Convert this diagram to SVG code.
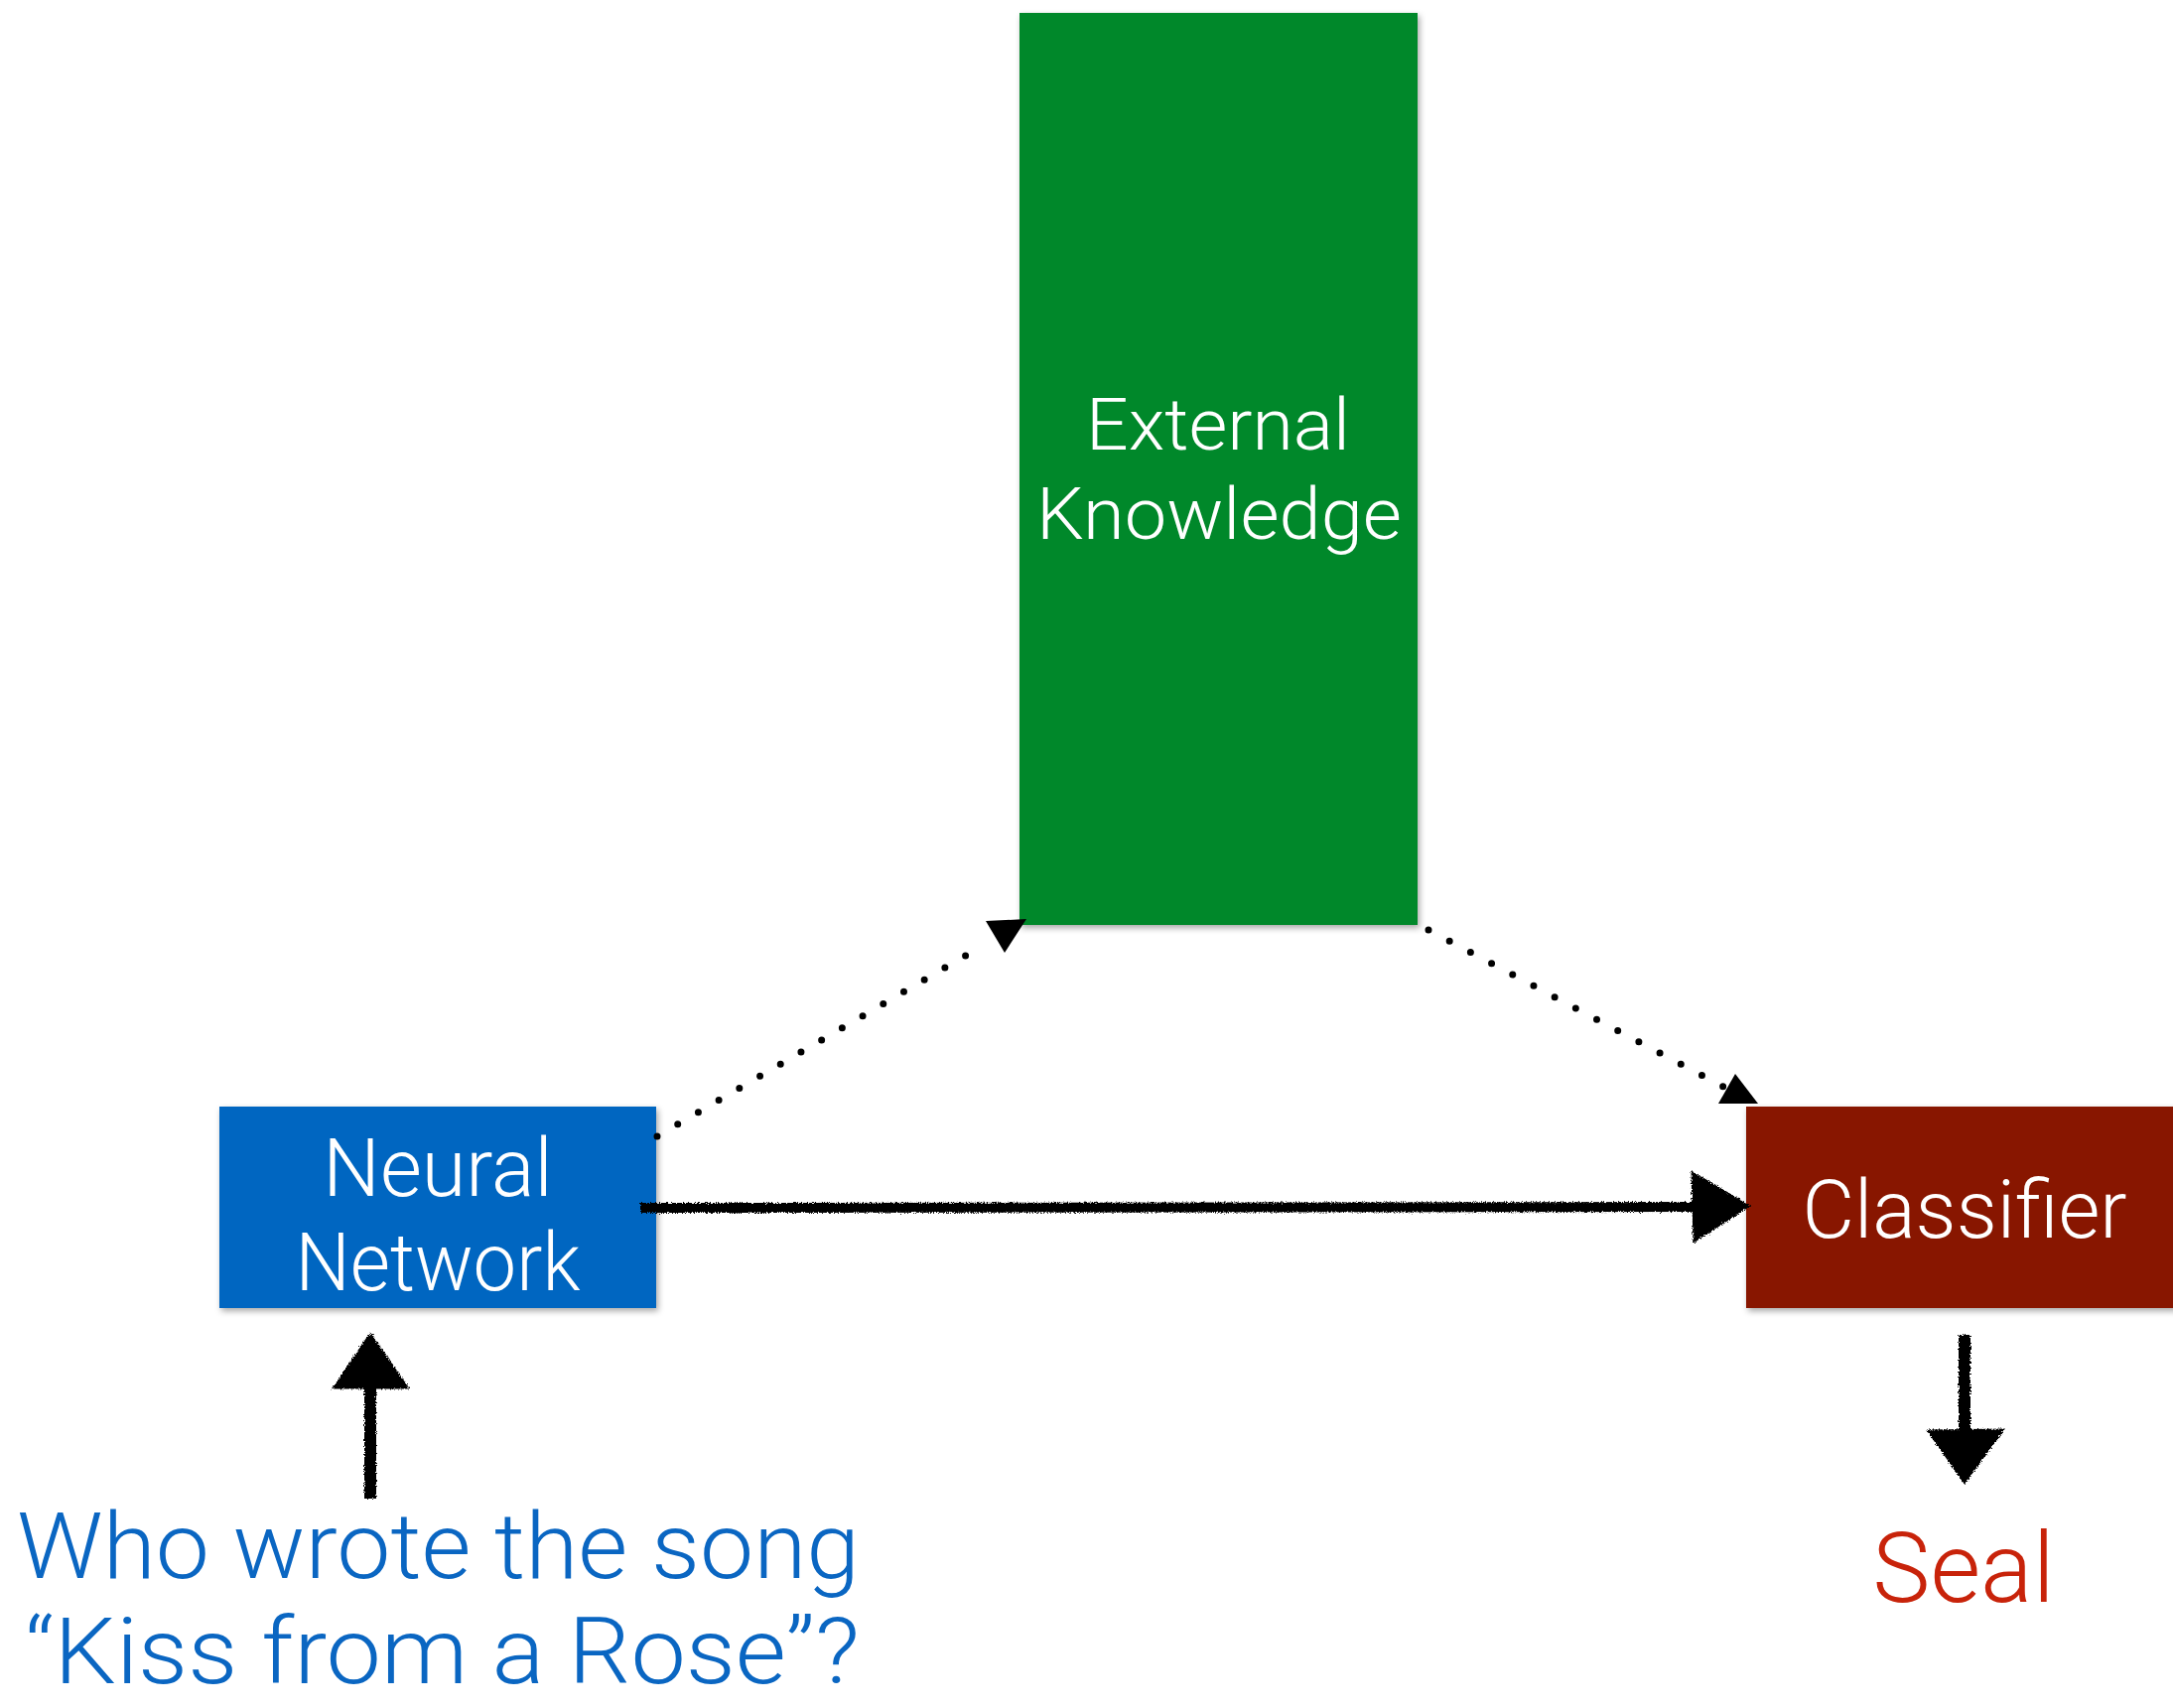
<svg xmlns="http://www.w3.org/2000/svg" width="2189" height="1721" viewBox="0 0 2189 1721">
<defs>
<style>
.lbl{font-family:Roboto,"Liberation Sans",sans-serif;font-weight:300;fill:#fff;text-anchor:middle}
.q{font-family:Roboto,"Liberation Sans",sans-serif;font-weight:300;fill:#0A66C2;font-size:92px}
.dot{fill:none;stroke:#000;stroke-width:7;stroke-linecap:round;stroke-dasharray:0 24}
.rough{fill:#000;stroke:#000;filter:url(#rough)}
</style>
<filter id="shadow" x="-10%" y="-10%" width="120%" height="120%">
<feDropShadow dx="2" dy="3" stdDeviation="3" flood-color="#000" flood-opacity="0.35"/>
</filter>
<filter id="rough" x="-10%" y="-10%" width="120%" height="120%">
<feTurbulence type="fractalNoise" baseFrequency="0.9" numOctaves="2" seed="3" result="n"/>
<feDisplacementMap in="SourceGraphic" in2="n" scale="5" xChannelSelector="R" yChannelSelector="G"/>
</filter>
</defs>
<rect width="2189" height="1721" fill="#fff"/>
<g id="external-knowledge">
<rect x="1027" y="13" width="401" height="919" fill="#02882C" filter="url(#shadow)"/>
<text class="lbl" x="1227" y="453" font-size="72" textLength="266" lengthAdjust="spacingAndGlyphs">External</text>
<text class="lbl" x="1228" y="543" font-size="72" textLength="368" lengthAdjust="spacingAndGlyphs">Knowledge</text>
</g>
<g id="neural-network">
<rect x="221" y="1115" width="440" height="203" fill="#0466C1" filter="url(#shadow)"/>
<text class="lbl" x="441" y="1205" font-size="81">Neural</text>
<text class="lbl" x="441" y="1300" font-size="81" textLength="287" lengthAdjust="spacingAndGlyphs">Network</text>
</g>
<g id="classifier">
<rect x="1759" y="1115" width="440" height="203" fill="#881203" filter="url(#shadow)"/>
<text class="lbl" x="1979" y="1247" font-size="81">Classifier</text>
</g>
<g id="question">
<text class="q" x="17" y="1590" textLength="849" lengthAdjust="spacingAndGlyphs">Who wrote the song</text>
<text class="q" x="25" y="1696" textLength="841" lengthAdjust="spacingAndGlyphs">“Kiss from a Rose”?</text>
</g>
<g id="answer">
<text x="1978" y="1614" font-size="98" font-family="Roboto,'Liberation Sans',sans-serif" font-weight="300" fill="#C8230A" text-anchor="middle">Seal</text>
</g>
<g id="connectors">
<path class="dot" d="M662 1145 L993 951"/>
<polygon points="993,928 1034,926 1012,960" fill="#000"/>
<path class="dot" d="M1439 937 L1736 1095"/>
<polygon points="1731,1112 1771,1112 1748,1082" fill="#000"/>
<g class="rough">
<path d="M645 1217 L1712 1216" stroke-width="10" fill="none"/>
<polygon points="1705,1182 1761,1215 1707,1250" stroke-width="3"/>
<path d="M373 1510 L373 1395" stroke-width="12" fill="none"/>
<polygon points="373,1345 410,1398 337,1398" stroke-width="3"/>
<path d="M1979 1345 L1979 1445" stroke-width="12" fill="none"/>
<polygon points="1943,1442 2017,1441 1979,1493" stroke-width="3"/>
</g>
</g>
</svg>
